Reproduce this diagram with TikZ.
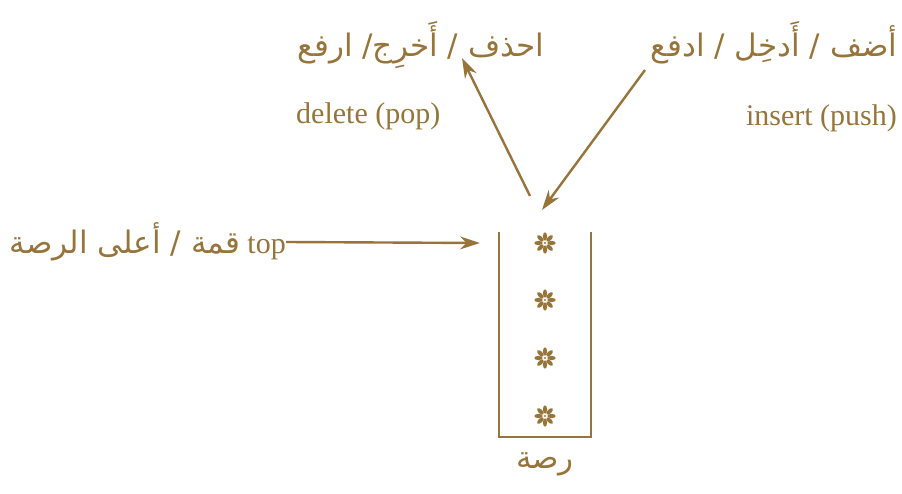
\documentclass[tikz,border=0pt]{standalone}
\usepackage{fontspec}
\setmainfont{Liberation Serif}
\newfontfamily\arabicfont[Script=Arabic]{DejaVu Sans}
\TeXXeTstate=1
\usetikzlibrary{arrows.meta}
\definecolor{gold}{RGB}{150,116,58}
\begin{document}
\begin{tikzpicture}[x=1pt,y=-1pt,
  every node/.style={text=gold,inner sep=0pt},
  ar/.style={font=\arabicfont\fontsize{31}{36}\selectfont},
  en/.style={font=\fontsize{30}{34}\selectfont},
  conn/.style={draw=gold,line width=2.4pt,-{Stealth[length=20pt,width=13pt]}},
  wall/.style={draw=gold,line width=2.4pt}]
\useasboundingbox (0,0) rectangle (902,494);
% labels
\node[ar] (delAr) at (421,45) {\beginR احذف / أَخرِج/ ارفع\endR};
\node[en,anchor=west] (delEn) at (296,116) {delete (pop)};
\node[ar] (insAr) at (774,43) {\beginR أضف / أَدخِل / ادفع\endR};
\node[en,anchor=east] (insEn) at (897,118) {insert (push)};
\node[anchor=east] (topl) at (286,242) {{\arabicfont\fontsize{31}{36}\selectfont\beginR قمة / أعلى الرصة\endR}\hspace{7pt}{\fontsize{30}{34}\selectfont top}};
\node[ar] (stackname) at (545,464) {\beginR رصة\endR};
% stack
\coordinate (tl) at (499,232);
\coordinate (bl) at (499,437);
\coordinate (br) at (591,437);
\coordinate (tr) at (591,232);
\draw[wall] (tl) -- (bl) -- (br) -- (tr);
\coordinate (slot) at (480,243);
\coordinate (inEnd) at (542,210);
\coordinate (outStart) at (530,196);
\coordinate (inStart) at (645,70);
\coordinate (outEnd) at (462,58);
% items
\foreach \yy in {243,300,358,416}{
  \foreach \a in {0,45,...,315}{
    \fill[gold,rotate around={\a:(545,\yy)}] (551.5,\yy) ellipse [x radius=4.2, y radius=2.1];
  }
  \fill[gold] (545,\yy) circle (1.2);
}
% connectors
\draw[conn] (topl.east) -- (slot);
\draw[conn] (inStart) -- (inEnd);
\draw[conn] (outStart) -- (outEnd);
\end{tikzpicture}
\end{document}
